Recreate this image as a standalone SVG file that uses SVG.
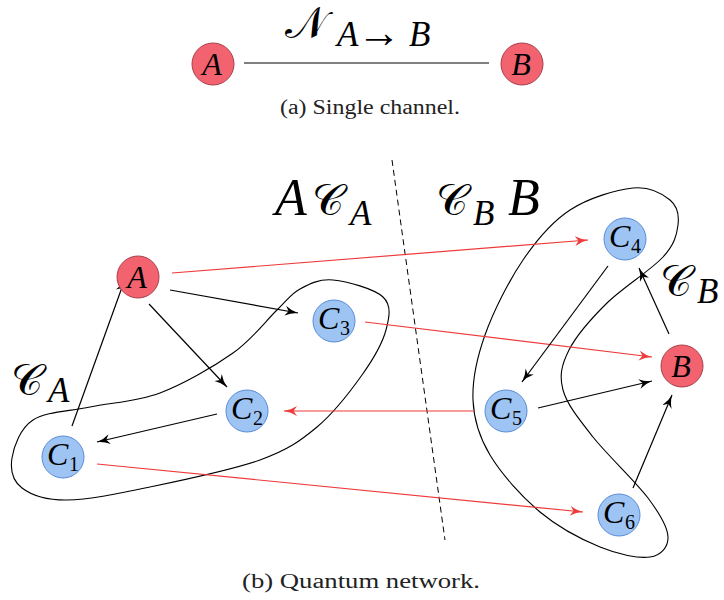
<svg xmlns="http://www.w3.org/2000/svg" width="724" height="600" viewBox="0 0 724 600">
<style>
text{font-family:'Liberation Serif','DejaVu Serif',serif}
.rn{fill:#f2636f;stroke:#a8404c;stroke-width:1}
.bn{fill:#9ec4f4;stroke:#5a8cd6;stroke-width:1}
.lb{font-style:italic;font-size:32px;fill:#000}
.sb{font-style:normal;font-size:20px}
.cap{font-size:20px;fill:#222}
.big{font-style:italic;font-size:52px;fill:#000}
.scr{font-style:normal;font-size:44px}
.sub{font-size:35px}
.blob{fill:none;stroke:#000;stroke-width:1.1}
.bk{stroke:#000;stroke-width:1.2;fill:none;marker-end:url(#ak)}
.rd{stroke:#ee3a3a;stroke-width:1.2;fill:none;marker-end:url(#ar)}
</style>
<defs>
<marker id="ak" markerUnits="userSpaceOnUse" markerWidth="16" markerHeight="12" refX="13" refY="5" orient="auto">
<path d="M0,0 Q6,4 13,5 Q6,6 0,10 L3.5,5 Z" fill="#000"/>
</marker>
<marker id="ar" markerUnits="userSpaceOnUse" markerWidth="16" markerHeight="12" refX="13" refY="5" orient="auto">
<path d="M0,0 Q6,4 13,5 Q6,6 0,10 L3.5,5 Z" fill="#ee3a3a"/>
</marker>
</defs>

<!-- (a) single channel -->
<g id="top-channel">
<line x1="244" y1="63" x2="489" y2="63" stroke="#000" stroke-width="1"/>
<text class="big" x="285" y="38"><tspan class="scr">𝒩</tspan><tspan class="sub" x="337" y="46">A</tspan><tspan x="357" y="47" style="font-style:normal;font-size:44px">→</tspan><tspan class="sub" x="409" y="46">B</tspan></text>
</g>
<g id="topA"><circle class="rn" cx="213" cy="64" r="21"/><text class="lb" x="212" y="75" text-anchor="middle">A</text></g>
<g id="topB"><circle class="rn" cx="522" cy="64" r="21"/><text class="lb" x="521" y="75" text-anchor="middle">B</text></g>
<text class="cap" x="280" y="114" textLength="180" lengthAdjust="spacingAndGlyphs">(a) Single channel.</text>

<!-- (b) quantum network -->
<g id="blobs">
<path class="blob" d="M333,280 C346.8,281.3 374.2,288.7 383,297 C391.8,305.3 389.5,317 386,330 C382.5,343 373.5,358.8 362,375 C350.5,391.2 334,412.8 317,427 C300,441.2 287.8,450 260,460 C232.2,470 182.2,480.3 150,487 C117.8,493.7 88.3,499.8 67,500 C45.7,500.2 31.2,495 22,488 C12.8,481 10.2,469.3 12,458 C13.8,446.7 20,428.5 33,420 C46,411.5 68.8,411.5 90,407 C111.2,402.5 136.2,402 160,393 C183.8,384 213.5,366.8 233,353 C252.5,339.2 265.8,320.7 277,310 C288.2,299.3 290.7,294 300,289 C309.3,284 319.2,278.7 333,280 Z"/>
<path class="blob" d="M633,188 C649.7,186.3 662.5,193.8 670,200 C677.5,206.2 679.2,215.5 678,225 C676.8,234.5 674.8,244 663,257 C651.2,270 622.7,287.5 607,303 C591.3,318.5 576.3,335.5 569,350 C561.7,364.5 559,375.5 563,390 C567,404.5 578.8,419 593,437 C607.2,455 635.5,481.3 648,498 C660.5,514.7 667.7,527.2 668,537 C668.3,546.8 661.3,555.3 650,557 C638.7,558.7 618.3,554.5 600,547 C581.7,539.5 558.3,527.3 540,512 C521.7,496.7 501.2,473.7 490,455 C478.8,436.3 473.8,420 473,400 C472.2,380 476.7,358.3 485,335 C493.3,311.7 508.8,280.8 523,260 C537.2,239.2 551.7,222 570,210 C588.3,198 616.3,189.7 633,188 Z"/>
</g>
<line id="divider" x1="392" y1="160" x2="445" y2="540" stroke="#000" stroke-width="1" stroke-dasharray="6,4"/>

<g id="connectors">
<line class="rd" x1="172" y1="273" x2="588" y2="240"/>
<line class="rd" x1="365" y1="322" x2="652" y2="357"/>
<line class="rd" x1="474" y1="411" x2="284" y2="411"/>
<line class="rd" x1="97" y1="464" x2="583" y2="512"/>
<line class="bk" x1="170" y1="290" x2="298" y2="313"/>
<line class="bk" x1="149" y1="304" x2="227" y2="387"/>
<line class="bk" x1="72" y1="426" x2="125" y2="279"/>
<line class="bk" x1="217" y1="414" x2="97" y2="442"/>
<line class="bk" x1="608" y1="266" x2="522" y2="382"/>
<line class="bk" x1="669" y1="334" x2="639" y2="268"/>
<line class="bk" x1="538" y1="408" x2="652" y2="381"/>
<line class="bk" x1="633" y1="488" x2="672" y2="395"/>
</g>

<g id="nodeA"><circle class="rn" cx="138" cy="277" r="21"/><text class="lb" x="137" y="288" text-anchor="middle">A</text></g>
<g id="nodeB"><circle class="rn" cx="682" cy="366" r="21"/><text class="lb" x="681" y="377" text-anchor="middle">B</text></g>
<g id="nodeC1"><circle class="bn" cx="63" cy="457" r="21"/><text class="lb" x="47" y="465">C<tspan class="sb" x="69" y="471">1</tspan></text></g>
<g id="nodeC2"><circle class="bn" cx="247" cy="411" r="21"/><text class="lb" x="231" y="419">C<tspan class="sb" x="253" y="425">2</tspan></text></g>
<g id="nodeC3"><circle class="bn" cx="334" cy="321" r="21"/><text class="lb" x="318" y="329">C<tspan class="sb" x="340" y="335">3</tspan></text></g>
<g id="nodeC4"><circle class="bn" cx="625" cy="239" r="21"/><text class="lb" x="609" y="247">C<tspan class="sb" x="631" y="253">4</tspan></text></g>
<g id="nodeC5"><circle class="bn" cx="506" cy="411" r="21"/><text class="lb" x="490" y="419">C<tspan class="sb" x="512" y="425">5</tspan></text></g>
<g id="nodeC6"><circle class="bn" cx="619" cy="515" r="21"/><text class="lb" x="603" y="523">C<tspan class="sb" x="625" y="529">6</tspan></text></g>

<g id="labels">
<text class="big" x="275" y="215">A<tspan class="scr" x="312" y="215">𝒞</tspan><tspan class="sub" x="350" y="225">A</tspan></text>
<text class="big" x="436" y="215"><tspan class="scr">𝒞</tspan><tspan class="sub" x="473" y="225">B</tspan><tspan x="508" y="215">B</tspan></text>
<text class="big" x="11" y="395"><tspan class="scr">𝒞</tspan><tspan class="sub" x="48" y="402">A</tspan></text>
<text class="big" x="660" y="296"><tspan class="scr">𝒞</tspan><tspan class="sub" x="697" y="303">B</tspan></text>
</g>
<text class="cap" x="242" y="588" textLength="238" lengthAdjust="spacingAndGlyphs">(b) Quantum network.</text>
</svg>
